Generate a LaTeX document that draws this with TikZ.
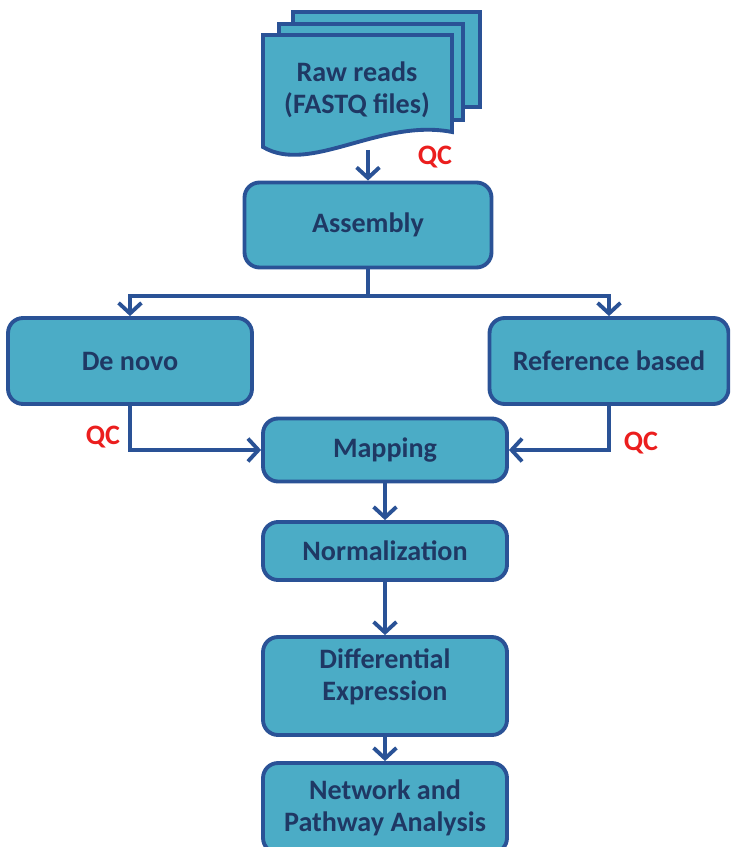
\documentclass[tikz,border=0pt]{standalone}
\usepackage{fontspec}
\setmainfont{Carlito}
\usepackage{tikz}
\usetikzlibrary{arrows.meta,calc}
\usepackage{xcolor}
\definecolor{boxfill}{RGB}{75,172,198}
\definecolor{boxline}{RGB}{42,82,150}
\definecolor{boxtext}{RGB}{31,56,100}
\definecolor{qcred}{RGB}{235,30,30}

\tikzset{
  stage/.style={draw=boxline,line width=2.2pt,fill=boxfill,rounded corners=0.3cm,
    text=boxtext,align=center,inner sep=2pt},
  sheet/.style={draw=boxline,line width=2.2pt,fill=boxfill},
  flow/.style={draw=boxline,line width=2.2pt,-{Straight Barb[length=6pt,width=13pt]}},
  qc/.style={text=qcred,font=\bfseries\fontsize{16}{18}\selectfont}
}

\begin{document}
\begin{tikzpicture}[x=0.02cm,y=-0.02cm,every node/.style={font=\bfseries\fontsize{16}{18.5}\selectfont}]
\useasboundingbox (0,0) rectangle (730,847);
\clip (0,0) rectangle (730,847);
% stacked raw read files
\draw[sheet] (293,12) rectangle (480,107);
\draw[sheet] (279,24) rectangle (463,120);
\draw[sheet] (263,35) -- (452,35) -- (452,132) .. controls (380,118) and (310,175) .. (263,147) -- cycle;
\node[text=boxtext,align=center] (raw) at (357,90) {Raw reads\\(FASTQ files)};
\coordinate (rawbot) at (368,150);

\node[stage,minimum width=4.94cm,minimum height=1.7cm] (asm) at (368,225) {Assembly};
\node[stage,minimum width=4.88cm,minimum height=1.72cm] (denovo) at (130,361) {De novo};
\node[stage,minimum width=4.78cm,minimum height=1.72cm] (ref) at (609,361) {Reference based};
\node[stage,minimum width=4.88cm,minimum height=1.26cm] (map) at (385,450) {Mapping};
\node[stage,minimum width=4.88cm,minimum height=1.16cm] (norm) at (385,551) {Normalization};
\node[stage,minimum width=4.88cm,minimum height=1.96cm] (diff) at (385,686) {};
\node[text=boxtext,align=center] (difftext) at (385,677) {Differential\\Expression};
\node[stage,minimum width=4.88cm,minimum height=1.8cm] (net) at (385,808) {Network and\\Pathway Analysis};

\coordinate (split) at (368,296);
\draw[flow] (rawbot) -- (asm.north);
\draw[boxline,line width=2.2pt] (asm.south) -- (split);
\draw[flow] (split) -| (denovo.north);
\draw[flow] (split) -| (ref.north);
\draw[flow] (denovo.south) |- (map.west);
\draw[flow] (ref.south) |- (map.east);
\draw[flow] (map) -- (norm);
\draw[flow] (norm) -- (diff);
\draw[flow] (diff) -- (net);

\node[qc] (qc1) at (435,157) {QC};
\node[qc] (qc2) at (103,437) {QC};
\node[qc] (qc3) at (641,443) {QC};
\end{tikzpicture}
\end{document}
